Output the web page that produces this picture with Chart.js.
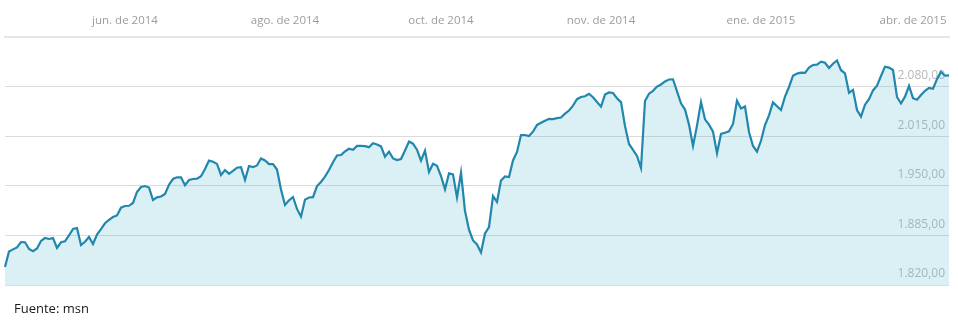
<!DOCTYPE html>
<html>
<head>
<meta charset="utf-8">
<script src="https://cdn.jsdelivr.net/npm/chart.js@4.4.1/dist/chart.umd.min.js"></script>
<style>
  html, body { margin: 0; padding: 0; background: #fff; }
  #wrap { position: relative; width: 958px; height: 331px; }
  #source {
    position: absolute; left: 14px; top: 299px;
    font-family: "Open Sans", "Noto Sans", sans-serif; font-size: 13px; color: #1a1a1a;
  }
</style>
</head>
<body>
<div id="wrap">
  <canvas id="chart" width="958" height="331"></canvas>
  <div id="source">Fuente: msn</div>
</div>
<script>
  // daily closes (late Apr 2014 -> early Apr 2015)
  const closes = [
    1843.6, 1864.0, 1866.7, 1869.3, 1876.1, 1876.0, 1867.2, 1864.4, 1867.8, 1877.7,
    1881.6, 1880.3, 1881.5, 1868.5, 1876.0, 1877.3, 1884.9, 1893.4, 1894.7, 1872.4,
    1876.7, 1882.9, 1873.7, 1886.2, 1893.1, 1900.9, 1905.2, 1909.1, 1911.2, 1921.4,
    1923.5, 1923.8, 1927.5, 1941.9, 1948.4, 1949.7, 1947.8, 1931.4, 1934.9, 1936.0,
    1939.3, 1951.4, 1958.9, 1961.1, 1961.1, 1950.7, 1957.6, 1958.9, 1959.3, 1962.5,
    1972.0, 1983.0, 1981.5, 1978.7, 1964.2, 1970.7, 1965.7, 1969.5, 1973.7, 1974.4,
    1957.6, 1975.9, 1974.4, 1976.7, 1985.8, 1983.3, 1978.4, 1978.3, 1971.4, 1945.2,
    1924.8, 1931.0, 1935.3, 1919.7, 1909.5, 1931.9, 1934.7, 1935.1, 1949.7, 1955.0,
    1962.1, 1970.7, 1980.8, 1989.7, 1990.4, 1995.1, 1998.5, 1997.2, 2002.2, 2002.2,
    2001.9, 2000.6, 2005.7, 2004.1, 2001.6, 1988.1, 1994.7, 1985.9, 1983.8, 1985.1,
    1996.3, 2008.1, 2005.2, 1997.3, 1982.9, 1996.0, 1968.1, 1978.8, 1976.2, 1962.8,
    1945.4, 1966.3, 1964.9, 1934.9, 1967.2, 1917.0, 1892.5, 1878.4, 1873.2, 1862.7,
    1887.5, 1896.0, 1936.6, 1928.8, 1956.8, 1962.3, 1961.4, 1983.2, 1994.3, 2016.6,
    2016.6, 2015.3, 2020.9, 2029.8, 2032.6, 2035.3, 2037.8, 2037.5, 2038.6, 2039.4,
    2044.5, 2048.7, 2055.1, 2063.5, 2066.4, 2067.3, 2070.6, 2066.0, 2059.8, 2053.7,
    2069.6, 2072.3, 2071.6, 2064.8, 2059.7, 2028.4, 2004.8, 1997.2, 1989.1, 1973.3,
    2061.1, 2070.7, 2074.4, 2080.0, 2082.8, 2086.8, 2089.3, 2089.6, 2073.7, 2058.1,
    2049.9, 2030.2, 2002.2, 2028.9, 2059.8, 2037.1, 2030.1, 2021.0, 1992.6, 2018.0,
    2019.6, 2021.4, 2031.0, 2061.5, 2051.3, 2053.9, 2020.5, 2002.2, 1994.7, 2009.0,
    2029.7, 2042.3, 2059.3, 2054.2, 2049.3, 2066.8, 2079.5, 2094.3, 2097.0, 2098.2,
    2098.0, 2105.0, 2108.3, 2108.8, 2112.6, 2111.3, 2104.4, 2110.0, 2114.2, 2101.5,
    2097.4, 2071.9, 2075.7, 2049.3, 2040.6, 2056.3, 2063.5, 2075.0, 2081.2, 2093.9,
    2106.1, 2104.9, 2101.8, 2066.4, 2057.9, 2066.8, 2081.1, 2064.8, 2062.8, 2069.0,
    2074.5, 2078.4, 2077.2, 2089.7, 2099.3, 2094.3, 2094.8
  ];

  const xTickLabels = ["jun. de 2014", "ago. de 2014", "oct. de 2014", "nov. de 2014", "ene. de 2015", "abr. de 2015"];
  const xTickIndex = [30, 70, 109, 149, 189, 227];

  const yMin = 1820;
  const yMax = 2145;
  const yStep = 65;

  function formatEs(v) {
    const parts = v.toFixed(2).split(".");
    const intPart = parts[0].replace(/\B(?=(\d{3})+(?!\d))/g, ".");
    return intPart + "," + parts[1];
  }

  new Chart(document.getElementById("chart"), {
    type: "line",
    data: {
      labels: closes.map((_, i) => i),
      datasets: [{
        data: closes,
        borderColor: "#2287ad",
        // translucent so grid and labels show through, ~#dbf0f4 on white
        backgroundColor: "rgba(75,180,200,0.2)",
        borderWidth: 2.2,
        fill: "start",
        tension: 0,
        pointRadius: 0,
      }],
    },
    options: {
      responsive: false,
      animation: false,
      layout: { padding: { left: 5, right: 0, top: 0, bottom: 46 } },
      plugins: { legend: { display: false }, tooltip: { enabled: false } },
      scales: {
        x: {
          position: "top",
          grid: { display: false, drawTicks: false },
          border: { display: true, color: "#e6e6e6", width: 2 },
          ticks: {
            autoSkip: false,
            maxRotation: 0,
            padding: 9,
            color: "#9c9c9c",
            font: { family: "Open Sans", size: 11.5 },
            callback: (val, idx) => {
              const k = xTickIndex.indexOf(idx);
              return k >= 0 ? xTickLabels[k] : null;
            },
          },
          afterFit: (s) => { s.height = 37; },
        },
        y: {
          position: "right",
          min: yMin,
          max: yMax,
          grid: { color: "#dcdcdc", lineWidth: 1, drawTicks: false },
          border: { display: false },
          ticks: {
            stepSize: yStep,
            mirror: true,
            padding: -4, // mirrored right labels: x = left + padding, right-aligned
            labelOffset: -11,
            color: "#b8b8b8",
            font: { family: "Open Sans", size: 12 },
            callback: (v) => (v >= yMax ? "" : formatEs(v)),
          },
          afterFit: (s) => { s.width = 9; },
        },
      },
    },
  });
</script>
</body>
</html>
